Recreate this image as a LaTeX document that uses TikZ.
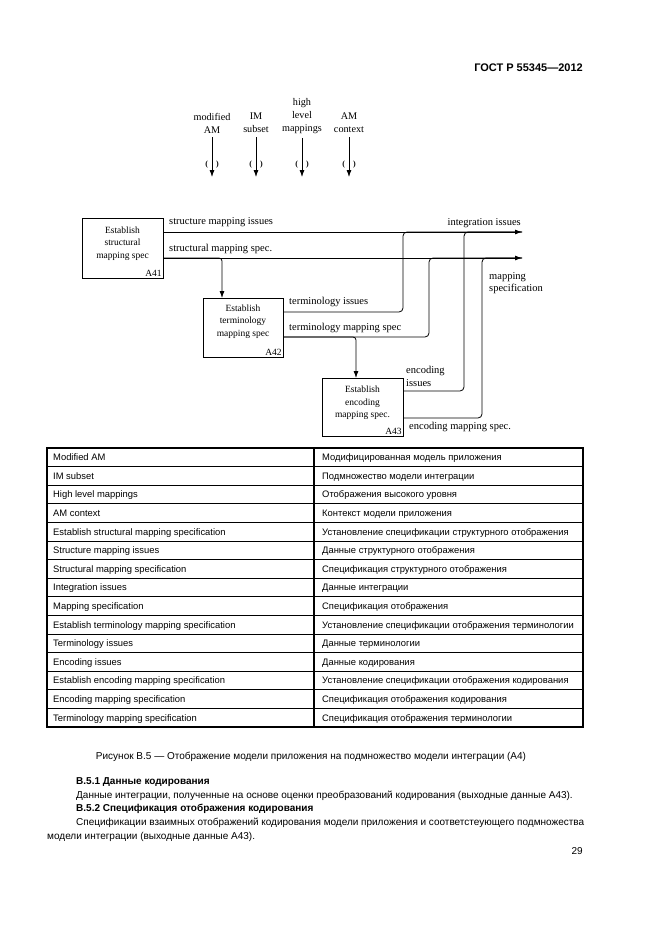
\documentclass[tikz,border=0pt]{standalone}
\usepackage{fontspec}
\setmainfont{Liberation Serif}
\newfontfamily\arial{Liberation Sans}
\usetikzlibrary{arrows.meta}
\begin{document}
\begin{tikzpicture}[x=1pt,y=-1pt,
 box/.style={draw, line width=0.7pt, inner sep=0pt},
 boxtext/.style={font=\fontsize{9.5}{12.3}\selectfont, align=center, inner sep=0pt},
 tag/.style={font=\fontsize{9.5}{11}\selectfont, inner sep=1.5pt, anchor=south east},
 conn/.style={line width=0.8pt},
 arr/.style={-{Latex[length=7pt,width=5pt]}},
 lab/.style={font=\fontsize{10.5}{12.3}\selectfont, inner sep=0pt, align=left},
 inlab/.style={font=\fontsize{10.2}{13}\selectfont, inner sep=0pt, align=center},
 paren/.style={font=\bfseries\fontsize{8}{9}\selectfont, inner sep=0pt},
 tab/.style={font=\arial\fontsize{9.4}{11}\selectfont, inner sep=0pt, anchor=base west},
 body/.style={font=\arial\fontsize{10}{12}\selectfont, inner sep=0pt, anchor=base west},
]
\fill[white] (0,0) rectangle (661,935);
\useasboundingbox (0,0) rectangle (661,935);

% header
\node[font=\arial\bfseries\fontsize{11}{13}\selectfont, anchor=east, inner sep=0pt] (hdr) at (583,68) {ГОСТ Р 55345—2012};

% top inputs
\node[inlab] (in1) at (212,123) {modified\\AM};
\node[inlab] (in2) at (256,123) {IM\\subset};
\node[inlab] (in3) at (302,116) {high\\level\\mappings};
\node[inlab] (in4) at (349,123) {AM\\context};
\coordinate (e1) at (212,177);
\coordinate (e2) at (256,177);
\coordinate (e3) at (302,177);
\coordinate (e4) at (349,177);
\draw[conn,arr,shorten <=4pt] (in1.south) -- (e1);
\draw[conn,arr,shorten <=4pt] (in2.south) -- (e2);
\draw[conn,arr,shorten <=4pt] (in3.south) -- (e3);
\draw[conn,arr,shorten <=4pt] (in4.south) -- (e4);
\node[paren] (par1) at (212,165) {(\hspace{8pt})};
\node[paren] (par2) at (256,165) {(\hspace{8pt})};
\node[paren] (par3) at (302,165) {(\hspace{8pt})};
\node[paren] (par4) at (349,165) {(\hspace{8pt})};

% boxes
\node[box, minimum width=81pt, minimum height=60pt] (A41) at (122.5,248) {};
\node[boxtext] (t41) at ([yshift=4.5pt]A41.center) {Establish\\structural\\mapping spec};
\node[tag] (g41) at (A41.south east) {A41};

\node[box, minimum width=80pt, minimum height=59pt] (A42) at (243,327.5) {};
\node[boxtext] (t42) at ([yshift=6pt]A42.center) {Establish\\terminology\\mapping spec};
\node[tag] (g42) at (A42.south east) {A42};

\node[box, minimum width=81pt, minimum height=58pt] (A43) at (362.5,407) {};
\node[boxtext] (t43) at ([yshift=4pt]A43.center) {Establish\\encoding\\mapping spec.};
\node[tag] (g43) at (A43.south east) {A43};

% connector coordinates
\coordinate (io) at (522,232);
\coordinate (mo) at (522,258);
\coordinate (b42) at (222,298);
\coordinate (b43) at (356,378);
\coordinate (ti) at (403,312);
\coordinate (tm) at (429,337);
\coordinate (ei) at (464,391);
\coordinate (em) at (482,418);

\draw[conn,arr] (A41.east |- io) -- (io);
\draw[conn,arr] (A41.east |- mo) -- (mo);
\draw[conn,arr,rounded corners=3pt] (A41.east |- mo) -| (b42);
\draw[conn,rounded corners=4pt] (A42.east |- ti) -- (ti) |- (io);
\draw[conn,rounded corners=4pt] (A42.east |- tm) -- (tm) |- (mo);
\draw[conn,arr,rounded corners=3pt] (A42.east |- tm) -| (b43);
\draw[conn,rounded corners=4pt] (A43.east |- ei) -- (ei) |- (io);
\draw[conn,rounded corners=4pt] (A43.east |- em) -- (em) |- (mo);

% labels
\node[lab, anchor=west] (l1) at (169,222) {structure mapping issues};
\node[lab, anchor=west] (l2) at (169,249) {structural mapping spec.};
\node[lab, anchor=east] (l3) at (521,223) {integration issues};
\node[lab, anchor=west] (l4) at (489,283) {mapping\\specification};
\node[lab, anchor=west] (l5) at (289,302) {terminology issues};
\node[lab, anchor=west] (l6) at (289,328) {terminology mapping spec};
\node[lab, anchor=west] (l7) at (406,376.5) {encoding\\issues};
\node[lab, anchor=west] (l8) at (409,427) {encoding mapping spec.};

% table
\foreach \l/\r [count=\i] in {
 Modified AM/Модифицированная модель приложения,
 IM subset/Подмножество модели интеграции,
 High level mappings/Отображения высокого уровня,
 AM context/Контекст модели приложения,
 Establish structural mapping specification/Установление спецификации структурного отображения,
 Structure mapping issues/Данные структурного отображения,
 Structural mapping specification/Спецификация структурного отображения,
 Integration issues/Данные интеграции,
 Mapping specification/Спецификация отображения,
 Establish terminology mapping specification/Установление спецификации отображения терминологии,
 Terminology issues/Данные терминологии,
 Encoding issues/Данные кодирования,
 Establish encoding mapping specification/Установление спецификации отображения кодирования,
 Encoding mapping specification/Спецификация отображения кодирования,
 Terminology mapping specification/Спецификация отображения терминологии}{
 \node[tab] (L\i) at (53,{448+(\i-0.5)*18.6+3.4}) {\l};
 \node[tab] (R\i) at (322,{448+(\i-0.5)*18.6+3.4}) {\r};
}
\foreach \i in {1,...,14} \draw[line width=0.9pt] (47,{448+\i*18.6}) -- (583,{448+\i*18.6});
\draw[line width=1.4pt] (47,448) rectangle (583,727);
\draw[line width=1.4pt] (314,448) -- (314,727);

% caption and text
\node[font=\arial\fontsize{10}{12}\selectfont, inner sep=0pt] (cap) at (311,757) {Рисунок В.5 — Отображение модели приложения на подмножество модели интеграции (А4)};
\node[body] (h1) at (76,784.5) {\bfseries В.5.1 Данные кодирования};
\node[body] (b1) at (76,798.5) {Данные интеграции, полученные на основе оценки преобразований кодирования (выходные данные А43).};
\node[body] (h2) at (76,811.5) {\bfseries В.5.2 Спецификация отображения кодирования};
\node[body] (b2) at (76,825.5) {\makebox[508pt][s]{Спецификации взаимных отображений кодирования модели приложения и соответстеующего подмножества}};
\node[body] (b3) at (47,839.5) {модели интеграции (выходные данные А43).};
\node[body, anchor=base east] (pg) at (583,854.5) {29};
\end{tikzpicture}
\end{document}
